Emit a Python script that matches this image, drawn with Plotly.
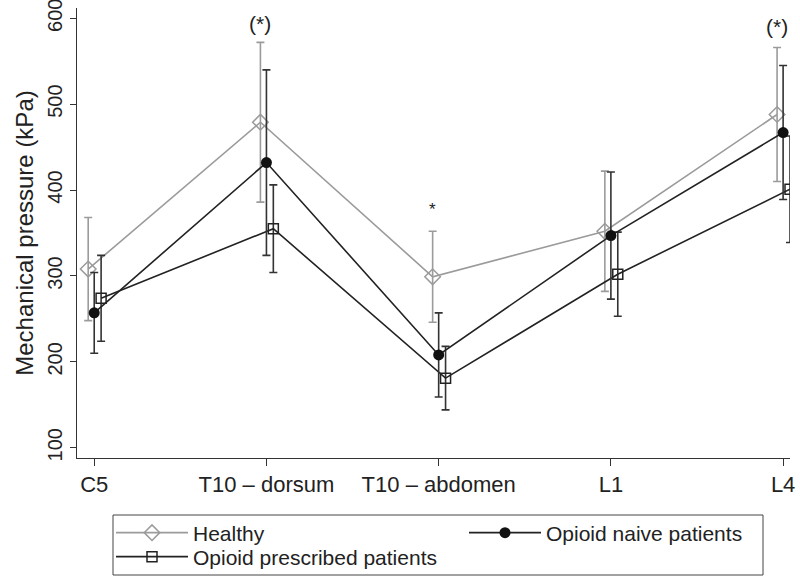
import plotly.graph_objects as go

categories = ["C5", "T10 – dorsum", "T10 – abdomen", "L1", "L4"]

healthy = [308, 479, 299, 352, 488]
healthy_err = [60, 93, 53, 70, 78]

naive = [257, 432, 208, 347, 467]
naive_err = [47, 108, 49, 74, 78]

prescribed = [274, 355, 181, 302, 401]
prescribed_err = [50, 51, 37, 49, 62]

y_ticks = [100, 200, 300, 400, 500, 600]

idx = list(range(len(categories)))
FONT = "Liberation Sans, Arial, Helvetica, sans-serif"
GRAY = "#9b9b9b"
DARK = "#222222"

# plot area in pixels (for placing the legend pieces)
W, H = 800, 577
L, R, T, B = 77, 10, 8, 119
PW, PH = W - L - R, H - T - B


def px_x(px):
    return (px - L) / PW


def px_y(py):
    return (H - B - py) / PH


fig = go.Figure()

fig.add_trace(go.Scatter(
    x=[i - 0.035 for i in idx], y=healthy, name="Healthy", mode="lines+markers",
    line=dict(color=GRAY, width=1.6),
    marker=dict(symbol="diamond-open", size=12, color=GRAY, line=dict(width=1.5, color=GRAY)),
    error_y=dict(type="data", array=healthy_err, visible=True, color=GRAY, thickness=1.6, width=4),
    legend="legend",
))
fig.add_trace(go.Scatter(
    x=[i + 0.04 for i in idx], y=prescribed, name="Opioid prescribed patients", mode="lines+markers",
    line=dict(color=DARK, width=1.6),
    marker=dict(symbol="square-open", size=10, color=DARK, line=dict(width=1.5, color=DARK)),
    error_y=dict(type="data", array=prescribed_err, visible=True, color="#333333", thickness=1.6, width=4),
    legend="legend3",
))
fig.add_trace(go.Scatter(
    x=idx, y=naive, name="Opioid naive patients", mode="lines+markers",
    line=dict(color=DARK, width=1.6),
    marker=dict(symbol="circle", size=11, color="#111111"),
    error_y=dict(type="data", array=naive_err, visible=True, color="#333333", thickness=1.6, width=4),
    legend="legend2",
))

fig.add_annotation(x=1 - 0.035, y=594, text="(*)", showarrow=False,
                   font=dict(size=21, color=DARK, family=FONT), xanchor="center", yanchor="middle")
fig.add_annotation(x=4 - 0.035, y=590, text="(*)", showarrow=False,
                   font=dict(size=21, color=DARK, family=FONT), xanchor="center", yanchor="middle")
fig.add_annotation(x=2 - 0.035, y=377, text="*", showarrow=False,
                   font=dict(size=17, color=DARK, family=FONT), xanchor="center", yanchor="middle")

# legend frame
fig.add_shape(type="rect", xref="paper", yref="paper",
              x0=px_x(113), x1=px_x(763), y0=px_y(575), y1=px_y(515),
              line=dict(color="#444444", width=1), fillcolor="rgba(0,0,0,0)", layer="above")

leg_common = dict(borderwidth=0, bgcolor="rgba(0,0,0,0)", itemwidth=72,
                  font=dict(size=21, family=FONT, color=DARK),
                  xanchor="left", yanchor="middle", orientation="v")

fig.update_layout(
    width=W, height=H,
    margin=dict(l=L, r=R, t=T, b=B, autoexpand=False),
    paper_bgcolor="white", plot_bgcolor="white",
    font=dict(family=FONT, size=21, color=DARK),
    showlegend=True,
    legend=dict(x=px_x(111), y=px_y(533), **leg_common),
    legend2=dict(x=px_x(464), y=px_y(533), **leg_common),
    legend3=dict(x=px_x(111), y=px_y(557), **leg_common),
    xaxis=dict(
        range=[-0.1, 4.04], tickmode="array", tickvals=idx, ticktext=categories,
        showline=True, linecolor="#333333", linewidth=1, ticks="outside", ticklen=7,
        tickcolor="#333333", showgrid=False, zeroline=False, ticklabeloverflow="allow",
        automargin=False,
        tickfont=dict(size=22, family=FONT, color=DARK),
    ),
    yaxis=dict(
        range=[88, 612], tickmode="array", tickvals=y_ticks,
        showline=True, linecolor="#333333", linewidth=1, ticks="outside", ticklen=6,
        tickcolor="#333333", showgrid=False, zeroline=False, tickangle=-90,
        ticklabeloverflow="allow", automargin=False,
        tickfont=dict(size=20, family=FONT, color=DARK),
        title=dict(text="Mechanical pressure (kPa)", font=dict(size=24, family=FONT, color=DARK), standoff=3),
    ),
)

fig.write_html("out.html", config={"displayModeBar": False},
               post_script="document.body.style.margin='0px';")
